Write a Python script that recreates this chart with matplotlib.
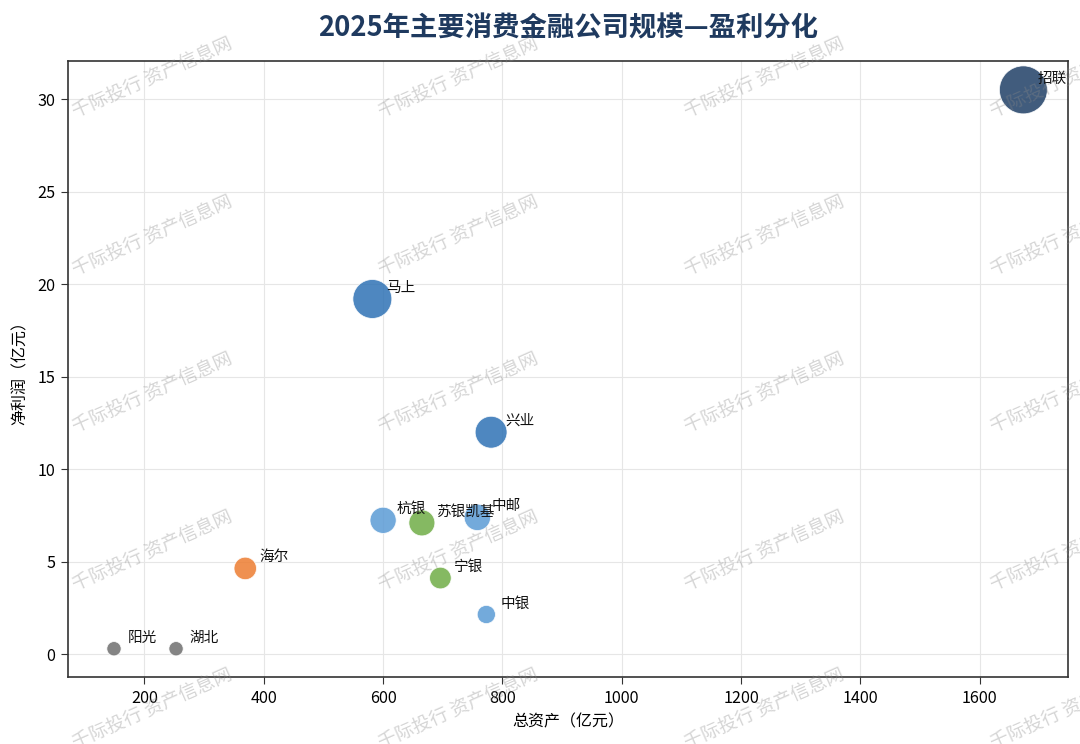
import matplotlib
matplotlib.use("Agg")
from matplotlib import pyplot as plt
import numpy as np

plt.rcParams['font.family'] = ['Noto Sans CJK SC', 'DejaVu Sans']
plt.rcParams['axes.unicode_minus'] = False

# data
companies = ['招联', '马上', '兴业', '中邮', '杭银', '苏银凯基', '宁银', '中银', '海尔', '阳光', '湖北']
assets = [1673, 582, 781, 758, 600, 665, 696, 773, 369, 149, 253]      # 总资产（亿元）
profit = [30.5, 19.2, 12.0, 7.4, 7.24, 7.1, 4.12, 2.15, 4.64, 0.3, 0.3]  # 净利润（亿元）
groups = ['top', 'big', 'big', 'bank', 'bank', 'green', 'green', 'bank', 'industry', 'other', 'other']

group_colors = {
    'top': '#1f3f66',
    'big': '#2f72b5',
    'bank': '#5b9bd5',
    'green': '#70ad47',
    'industry': '#ed7d31',
    'other': '#6f6f6f',
}

fig = plt.figure(figsize=(10.8, 7.44), dpi=100)
ax = fig.add_axes([0.063, 0.090, 0.926, 0.828])

# bubble area grows with profit
sizes = np.array(profit) * 36 + 95
colors = [group_colors[g] for g in groups]
ax.scatter(assets, profit, s=sizes, c=colors, alpha=0.85,
           edgecolors='white', linewidths=0.6, zorder=3)

for name, x, y in zip(companies, assets, profit):
    ax.annotate(name, (x, y), xytext=(10, 8), textcoords='offset points',
                fontsize=10.5, ha='left', va='center', color='#111111', zorder=4)

ax.set_xlim(72, 1748)
ax.set_ylim(-1.23, 32.06)
ax.set_xticks([200, 400, 600, 800, 1000, 1200, 1400, 1600])
ax.set_yticks([0, 5, 10, 15, 20, 25, 30])
ax.tick_params(labelsize=11.7, length=5, color='#333333', pad=4)
ax.grid(True, color='#e6e6e6', linewidth=0.8, zorder=0)
ax.set_axisbelow(True)
for sp in ax.spines.values():
    sp.set_color('#333333')
    sp.set_linewidth(1.2)

ax.set_xlabel('总资产（亿元）', fontsize=11.5, labelpad=5)
ax.set_ylabel('净利润（亿元）', fontsize=11.5, labelpad=6)
ax.set_title('2025年主要消费金融公司规模—盈利分化', fontsize=19.7,
             fontweight='bold', color='#1f3a5f', pad=18)

# watermark
W, H = 1080, 744
for cx in [152, 458, 764, 1070]:
    for cy in [78, 236, 393, 551, 709]:
        fig.text(cx / W, 1 - cy / H, '千际投行 资产信息网', rotation=24,
                 ha='center', va='center', fontsize=13.5, color='#888888',
                 alpha=0.35, zorder=10, rotation_mode='anchor')

fig.savefig('out.png', dpi=100)
